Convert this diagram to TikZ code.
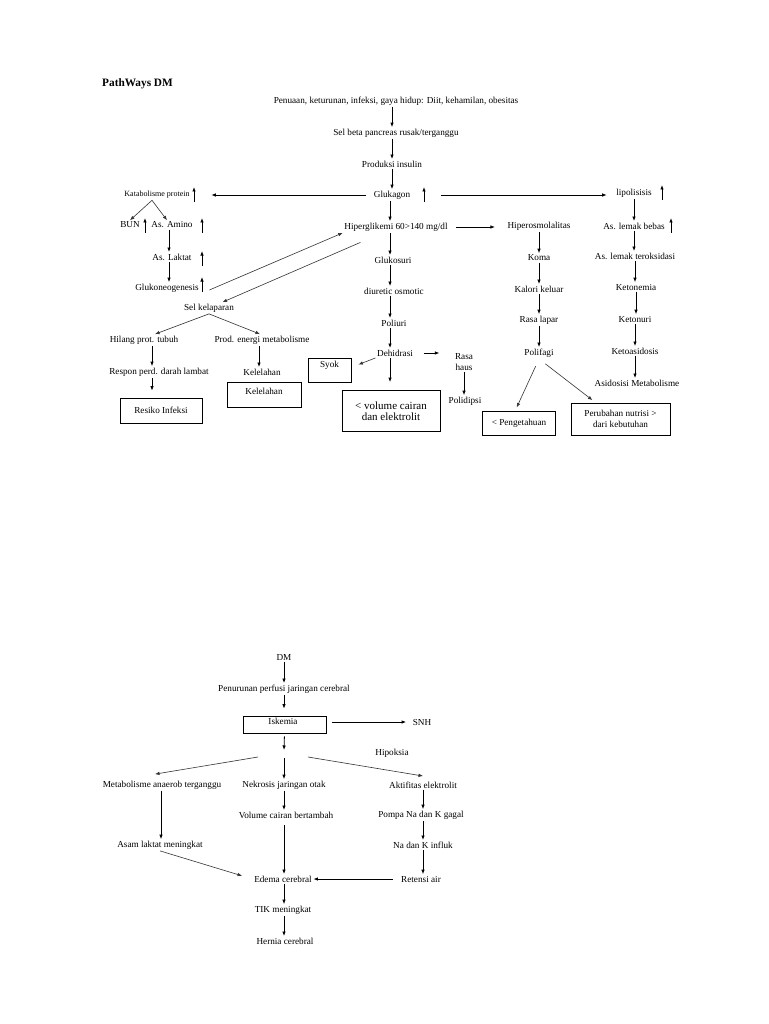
\documentclass[tikz,border=0pt]{standalone}
\usepackage{fontspec}
\setmainfont{Liberation Serif}
\usetikzlibrary{arrows.meta}
\begin{document}
\begin{tikzpicture}[x=1pt,y=-1pt,
  every node/.style={font=\fontsize{9.2}{10.4}\selectfont, inner sep=1.5pt},
  arr/.style={-{Latex[length=4.5pt,width=3.5pt]}, line width=0.8pt},
  darr/.style={-{Latex[length=4.5pt,width=3.5pt]}, line width=0.6pt, draw=black!80},
  box/.style={draw, line width=0.8pt},
  small/.style={font=\fontsize{8}{9}\selectfont},
  big/.style={font=\fontsize{11}{12.5}\selectfont}
]
\fill[white] (0,0) rectangle (768,1024);
\useasboundingbox (0,0) rectangle (768,1024);

% ---------- top diagram ----------
\node[font=\bfseries\fontsize{11.3}{13}\selectfont, anchor=west, inner sep=0pt] (title) at (102,84) {PathWays DM};
\node (pen) at (396,101) {Penuaan, keturunan, infeksi, gaya hidup: Diit, kehamilan, obesitas};
\node (sel) at (396,133) {Sel beta pancreas rusak/terganggu};
\node (prod) at (392,164) {Produksi insulin};
\node (gluk) at (392,195) {Glukagon};
\node[small] (kat) at (157,195) {Katabolisme protein};
\node (lip) at (634,193) {lipolisisis};

\node (bun) at (130,225) {BUN};
\node (amino) at (172,225) {As. Amino};
\node (laktat) at (172,257) {As. Laktat};
\node (glukneo) at (167,288) {Glukoneogenesis};
\node (selk) at (209,308) {Sel kelaparan};
\node (hilang) at (144,340) {Hilang prot. tubuh};
\node (prodE) at (262,340) {Prod. energi metabolisme};
\node (respon) at (159,372) {Respon perd. darah lambat};
\node (lelah) at (262,372) {Kelelahan};
\node[box, minimum width=82pt, minimum height=25pt] (resiko) at (161,410.5) {Resiko Infeksi};
\node[box, minimum width=74pt, minimum height=25pt] (lelahbox) at (264,394.5) {};
\node (lelaht) at (264,391) {Kelelahan};

\node (hiper) at (396,227) {Hiperglikemi 60>140 mg/dl};
\node (glukos) at (393,260) {Glukosuri};
\node (diur) at (394,291) {diuretic osmotic};
\node (poli) at (394,323) {Poliuri};
\node (dehid) at (395,353) {Dehidrasi};
\node[box, minimum width=43pt, minimum height=24pt] (syok) at (329.5,370) {};
\node (syokt) at (329.5,365) {Syok};
\node[box, big, align=center, minimum width=98pt, minimum height=41pt] (vol) at (391,411) {{<} volume cairan\\[-1pt]dan elektrolit};
\node[align=center] (rasa) at (464,362) {Rasa\\haus};
\node (polid) at (465,401) {Polidipsi};

\node (hosm) at (539,226) {Hiperosmolalitas};
\node (koma) at (539,258) {Koma};
\node (kalori) at (539,289) {Kalori keluar};
\node (lapar) at (539,320) {Rasa lapar};
\node (polif) at (539,353) {Polifagi};
\node[box, minimum width=73pt, minimum height=24pt] (peng) at (519,423.5) {{<} Pengetahuan};
\node[box, align=center, minimum width=99pt, minimum height=32pt] (perub) at (620.5,419) {Perubahan nutrisi >\\dari kebutuhan};

\node (lemak) at (634,226) {As. lemak bebas};
\node (oks) at (635,256) {As. lemak teroksidasi};
\node (ketnem) at (636,287) {Ketonemia};
\node (ketnur) at (635,319) {Ketonuri};
\node (ketasi) at (635,351) {Ketoasidosis};
\node (asimet) at (637,383) {Asidosisi Metabolisme};

% up-arrow markers
\foreach \x/\y in {194/195, 424/195, 662/193, 145/226, 202/226, 202/259, 202/285, 671/226}
  \draw[arr] (\x,\y+7) -- (\x,\y-8);

% connectors
\draw[arr] ([xshift=-4pt]pen.south) -- ([xshift=-4pt]sel.north);
\draw[arr] ([xshift=-4pt]sel.south) -- ([xshift=-4pt]sel.south |- prod.north);
\draw[arr] (prod) -- (gluk);
\draw[arr, shorten <=6pt, shorten >=20pt] (gluk.west) -- (gluk.west -| kat.east);
\draw[arr, shorten <=29pt, shorten >=8pt] (gluk.east) -- (gluk.east -| lip.west);
\draw[darr] ([xshift=-5pt]kat.south) -- (bun.north);
\draw[darr] ([xshift=-5pt]kat.south) -- ([xshift=-5pt]amino.north);
\draw[arr] ([xshift=-3pt]amino.south) -- ([xshift=-3pt]amino.south |- laktat.north);
\draw[arr] ([xshift=-3pt]laktat.south) -- ([xshift=-3pt]laktat.south |- glukneo.north);
\draw[darr] ([xshift=9pt,yshift=-2pt]glukneo.east) -- (hiper.south west);
\draw[darr, shorten <=24pt] (hiper) -- (selk);
\draw[darr] (selk.south) -- ([xshift=11pt]hilang.north);
\draw[darr] (selk.south) -- ([xshift=-2pt]prodE.north);
\draw[arr] ([xshift=8pt]hilang.south) -- ([xshift=8pt]hilang.south |- respon.north);
\draw[arr] ([xshift=-3pt]prodE.south) -- ([xshift=-3pt]prodE.south |- lelah.north);
\draw[arr, shorten >=7pt] ([xshift=-7pt]respon.south) -- ([xshift=-7pt]respon.south |- resiko.north);

\draw[arr] ([xshift=-2pt]gluk.south) -- ([xshift=-2pt]gluk.south |- hiper.north);
\draw[arr, shorten <=7pt, shorten >=11pt] (hiper.east) -- (hiper.east -| hosm.west);
\draw[arr] ([xshift=-3pt]hiper.south -| glukos) -- ([xshift=-3pt]glukos.north);
\draw[arr] ([xshift=-3pt]glukos.south) -- ([xshift=-3pt]glukos.south |- diur.north);
\draw[arr] ([xshift=-4pt]diur.south) -- ([xshift=-4pt]diur.south |- poli.north);
\draw[arr] ([xshift=-4pt]poli.south) -- ([xshift=-4pt]poli.south |- dehid.north);
\draw[darr] (dehid.south west) -- ([xshift=7pt,yshift=-7pt]syok.north east);
\draw[arr, shorten >=8pt] ([xshift=-5pt]dehid.south) -- ([xshift=-5pt]dehid.south |- vol.north);
\draw[arr, shorten <=9pt, shorten >=14pt] (dehid.east) -- (dehid.east -| rasa.west);
\draw[arr] (rasa.south) -- (rasa.south |- polid.north);

\draw[arr] (hosm) -- (koma);
\draw[arr] (koma) -- (kalori);
\draw[arr] (kalori) -- (lapar);
\draw[arr] (lapar) -- (polif);
\draw[darr, shorten <=8pt, shorten >=4pt] (polif.south) -- ([xshift=-4pt]peng.north);
\draw[darr, shorten <=8pt, shorten >=4pt] (polif.south) -- ([xshift=25pt]perub.north west);

\draw[arr] (lip.south -| lemak) -- (lemak.north);
\draw[arr] (lemak.south) -- (lemak.south |- oks.north);
\draw[arr] (oks.south) -- (oks.south |- ketnem.north);
\draw[arr] (ketnem.south) -- (ketnem.south |- ketnur.north);
\draw[arr] (ketnur.south) -- (ketnur.south |- ketasi.north);
\draw[arr] (ketasi.south) -- (ketasi.south |- asimet.north);

% ---------- bottom diagram ----------
\node (dm) at (284,657) {DM};
\node (penur) at (284,689) {Penurunan perfusi jaringan cerebral};
\node[box, minimum width=83pt, minimum height=17pt] (isk) at (284.5,724.5) {};
\node (iskt) at (283,721) {Iskemia};
\node (snh) at (422,722) {SNH};
\node (hipok) at (392,753) {Hipoksia};
\coordinate (split) at (284,750);
\coordinate (sl) at (258,757);
\coordinate (sm) at (284,758);
\coordinate (sr) at (308,757);
\node (metab) at (162,785) {Metabolisme anaerob terganggu};
\node (nekro) at (284,785) {Nekrosis jaringan otak};
\node (aktif) at (423,785) {Aktifitas elektrolit};
\node (volc) at (286,815) {Volume cairan bertambah};
\node (pompa) at (421,815) {Pompa Na dan K gagal};
\node (asam) at (160,845) {Asam laktat meningkat};
\node (nak) at (423,845) {Na dan K influk};
\node (edema) at (283,879) {Edema cerebral};
\node (retensi) at (421,879) {Retensi air};
\node (tik) at (283,910) {TIK meningkat};
\node (hernia) at (285,941) {Hernia cerebral};

\draw[arr] (dm) -- (penur);
\draw[arr, shorten >=7pt] (penur.south) -- (penur.south |- isk.north);
\draw[arr, shorten <=6pt, shorten >=5pt] (isk.east |- snh.west) -- (snh.west);
\draw[arr, shorten <=3pt] (isk.south) -- (split);
\draw[darr] (sl) -- ([xshift=-7pt,yshift=5pt]metab.north);
\draw[arr] (sm) -- (sm |- nekro.north);
\draw[darr] (sr) -- ([yshift=4pt]aktif.north);
\draw[arr] ([xshift=-1pt]metab.south) -- ([xshift=-1pt]metab.south |- asam.north);
\draw[arr] (nekro.south) -- (nekro.south |- volc.north);
\draw[arr, shorten <=5pt] (nekro.south |- volc.south) -- (nekro.south |- edema.north);
\draw[arr] (aktif.south) -- (aktif.south |- pompa.north);
\draw[arr] (aktif.south |- pompa.south) -- (aktif.south |- nak.north);
\draw[arr] (nak.south) -- (nak.south |- retensi.north);
\draw[arr, shorten <=7pt] (retensi.west) -- (retensi.west -| edema.east);
\draw[darr, shorten >=11pt] (asam.south) -- (edema.west);
\draw[arr] (edema.south -| nekro) -- (nekro |- tik.north);
\draw[arr] (tik.south -| nekro) -- (nekro |- hernia.north);
\end{tikzpicture}
\end{document}
